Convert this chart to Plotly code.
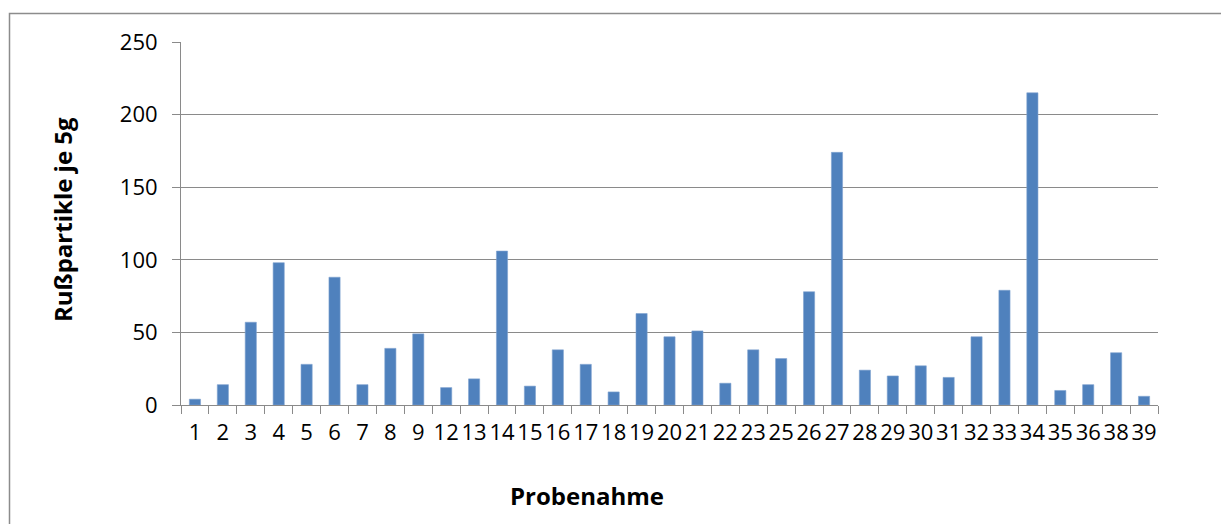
import plotly.graph_objects as go

categories = ["1", "2", "3", "4", "5", "6", "7", "8", "9", "12", "13", "14", "15", "16", "17",
              "18", "19", "20", "21", "22", "23", "25", "26", "27", "28", "29", "30", "31",
              "32", "33", "34", "35", "36", "38", "39"]
values = [4, 14, 57, 98, 28, 88, 14, 39, 49, 12, 18, 106, 13, 38, 28,
          9, 63, 47, 51, 15, 38, 32, 78, 174, 24, 20, 27, 19,
          47, 79, 215, 10, 14, 36, 6]
y_ticks = [0, 50, 100, 150, 200, 250]

W, H = 1221, 524
L, R, T, B = 181, 63, 42, 119
pw = W - L - R
ph = H - T - B

FONT = "Open Sans"
GRID = "#8a8a8a"

fig = go.Figure(go.Bar(
    x=categories, y=values,
    marker=dict(color="#4F81BD", line=dict(color="#7FA3D0", width=0.6)),
    width=0.4,
))

def px_x(p):
    return (p - L) / pw

def px_y(p):
    return 1 - (p - T) / ph

fig.update_layout(
    width=W, height=H, autosize=False,
    margin=dict(l=L, r=R, t=T, b=B, pad=0),
    paper_bgcolor="white", plot_bgcolor="white",
    showlegend=False,
    font=dict(family=FONT, color="black"),
    xaxis=dict(
        type="category", tickson="boundaries", ticks="outside", ticklen=8,
        tickcolor=GRID, tickwidth=1, showgrid=False, showline=True,
        linecolor=GRID, linewidth=1, tickangle=0,
        tickfont=dict(family=FONT, size=22, color="black"),
        ticklabelstandoff=8,
        range=[-0.5, len(categories) - 0.5],
    ),
    yaxis=dict(
        range=[0, 250], tickvals=y_ticks, ticks="outside", ticklen=8,
        tickcolor=GRID, tickwidth=1, showgrid=True, gridcolor=GRID, gridwidth=1,
        showline=True, linecolor=GRID, linewidth=1, zeroline=False,
        tickfont=dict(family=FONT, size=22, color="black"),
        ticklabelstandoff=10,
    ),
    shapes=[
        dict(type="rect", xref="paper", yref="paper",
             x0=px_x(9.5), x1=px_x(1230), y0=px_y(530), y1=px_y(13.5),
             line=dict(color="#8c8c8c", width=1.5), fillcolor="rgba(0,0,0,0)",
             layer="below"),
    ],
    annotations=[
        dict(text="<b>Probenahme</b>", xref="paper", yref="paper",
             x=px_x(587), y=px_y(495), showarrow=False,
             font=dict(family=FONT, size=24, color="black"),
             xanchor="center", yanchor="middle"),
        dict(text="<b>Rußpartikle je 5g</b>", xref="paper", yref="paper",
             x=px_x(62), y=px_y(220), showarrow=False, textangle=-90,
             font=dict(family=FONT, size=24, color="black"),
             xanchor="center", yanchor="middle"),
    ],
)

fig.write_html("out.html")
